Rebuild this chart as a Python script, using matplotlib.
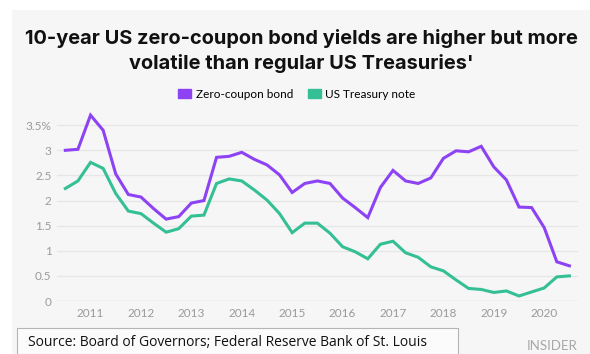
import numpy as np
import matplotlib.pyplot as plt
from matplotlib.patches import Rectangle, Patch

# quarterly observations, Q3 2010 .. Q3 2020
start_year = 2010.5
zero_coupon = [3.00, 3.02, 3.70, 3.40, 2.53, 2.12, 2.07, 1.84, 1.63, 1.68,
               1.95, 2.00, 2.86, 2.88, 2.96, 2.82, 2.71, 2.51, 2.16, 2.34,
               2.39, 2.34, 2.05, 1.86, 1.66, 2.26, 2.60, 2.39, 2.34, 2.45,
               2.84, 2.99, 2.97, 3.08, 2.67, 2.41, 1.87, 1.86, 1.46, 0.78,
               0.70]
treasury = [2.24, 2.39, 2.76, 2.64, 2.14, 1.79, 1.74, 1.55, 1.37, 1.44,
            1.69, 1.71, 2.34, 2.43, 2.39, 2.21, 2.01, 1.74, 1.36, 1.55,
            1.55, 1.35, 1.08, 0.98, 0.84, 1.13, 1.19, 0.96, 0.87, 0.68,
            0.60, 0.42, 0.25, 0.23, 0.17, 0.20, 0.10, 0.18, 0.26, 0.48,
            0.50]
years = [2011, 2012, 2013, 2014, 2015, 2016, 2017, 2018, 2019, 2020]
yticks = [0, 0.5, 1, 1.5, 2, 2.5, 3, 3.5]
ytick_labels = ['0', '0.5', '1', '1.5', '2', '2.5', '3', '3.5%']

purple = '#8d43f3'
green = '#34bf95'
bg = '#f6f6f6'

x = start_year + 0.25 * np.arange(len(zero_coupon))

fig = plt.figure(figsize=(5.9, 3.54), dpi=100)
fig.patch.set_facecolor('white')
fig.patches.append(Rectangle((12 / 590, 0), 1, 1 - 10 / 354, transform=fig.transFigure,
                             facecolor=bg, edgecolor='none', zorder=-10))

ax = fig.add_axes([57 / 590, 1 - 301 / 354, (578 - 57) / 590, 0.5392])
ax.set_zorder(2)
ax.set_facecolor(bg)
ax.plot(x, zero_coupon, color=purple, lw=2.2, solid_joinstyle='miter')
ax.plot(x, treasury, color=green, lw=2.2, solid_joinstyle='miter')

ax.set_xlim(2010.335, 2020.67)
ax.set_ylim(0, 3.8)
ax.set_yticks(yticks)
ax.set_yticklabels(ytick_labels)
ax.set_xticks(years)
ax.set_xticklabels([str(y) for y in years])
ax.tick_params(length=0, labelsize=8.5, labelcolor='#9a9a9a', pad=4)
ax.tick_params(axis='x', pad=5)
for s in ax.spines.values():
    s.set_visible(False)
for t in yticks:
    ax.axhline(t, color='#c8c8c8' if t == 0 else '#e6e6e6', lw=0.9, zorder=0)
for lab in ax.get_xticklabels() + ax.get_yticklabels():
    lab.set_family('Lato')

fig.text(301 / 590, 1 - 51 / 354,
         "10-year US zero-coupon bond yields are higher but more\nvolatile than regular US Treasuries'",
         ha='center', va='center', fontsize=14.4, fontweight='bold', family='Inter',
         linespacing=1.38, color='#111111')

handles = [Patch(color=purple, label='Zero-coupon bond'),
           Patch(color=green, label='US Treasury note')]
fig.legend(handles=handles, loc='center', bbox_to_anchor=(297 / 590, 1 - 94 / 354),
           ncol=2, frameon=False, prop={'family': 'Lato', 'size': 8.5},
           handlelength=1.1, handleheight=0.8, handletextpad=0.4, columnspacing=1.2)

fig.patches.append(Rectangle((17 / 590, 0), (458 - 17) / 590, 1 - 328 / 354,
                             transform=fig.transFigure, facecolor='#fbfbfb',
                             edgecolor='#b5b5b5', lw=0.8, zorder=1))
fig.text(28 / 590, 1 - 343 / 354, 'Source: Board of Governors; Federal Reserve Bank of St. Louis',
         ha='left', va='center', fontsize=10, family='Open Sans', color='#111111')
fig.text(578 / 590, 1 - 346 / 354, 'INSIDER', ha='right', va='center', fontsize=9.5,
         family='Lato', color='#a8a8a8')

fig.savefig('out.png', dpi=100, facecolor=fig.get_facecolor())
